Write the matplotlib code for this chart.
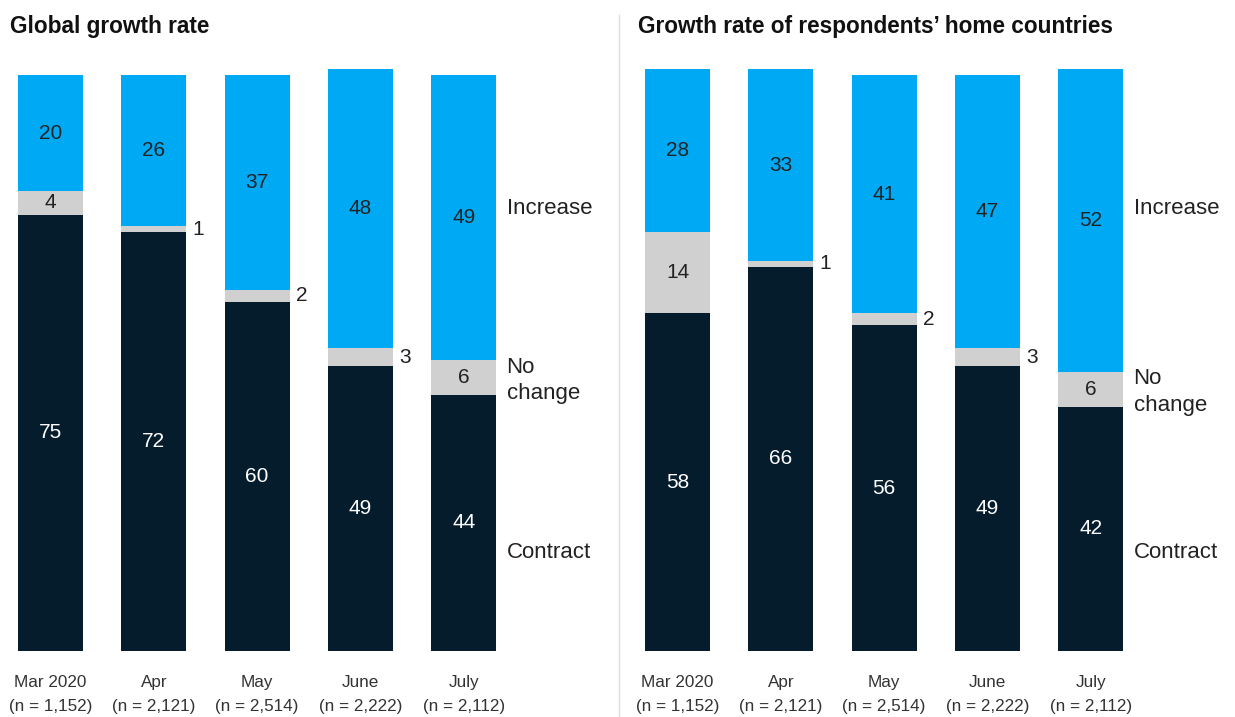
import matplotlib
matplotlib.use("Agg")
import matplotlib.pyplot as plt
from matplotlib import font_manager

# Survey data: share of respondents (%) expecting each outcome
months = ["Mar 2020", "Apr", "May", "June", "July"]
sample_sizes = ["1,152", "2,121", "2,514", "2,222", "2,112"]

global_contract = [75, 72, 60, 49, 44]
global_nochange = [4, 1, 2, 3, 6]
global_increase = [20, 26, 37, 48, 49]

home_contract = [58, 66, 56, 49, 42]
home_nochange = [14, 1, 2, 3, 6]
home_increase = [28, 33, 41, 47, 52]

titles = ["Global growth rate", "Growth rate of respondents\u2019 home countries"]
series_names = ["Increase", "No change", "Contract"]

DARK = "#051C2C"
GRAY = "#D0D0D0"
BLUE = "#00A9F4"
TEXT = "#222222"

available = {f.name for f in font_manager.fontManager.ttflist}
narrow = "Liberation Sans Narrow" if "Liberation Sans Narrow" in available else "Liberation Sans"
plt.rcParams["font.family"] = ["Liberation Sans", "DejaVu Sans"]

W, H = 1235, 717
fig = plt.figure(figsize=(W / 100, H / 100), dpi=100)

PX_PER_UNIT = 5.82
BASE_Y = 651          # pixel row of the bar baseline
STEP = 103.3          # pixel distance between bars
BAR_W = 65 / STEP


def draw_panel(x0, x1, first_center, contract, nochange, increase, title, title_x):
    ax = fig.add_axes([x0 / W, (H - BASE_Y) / H, (x1 - x0) / W, BASE_Y / H])
    ax.set_xlim((x0 - first_center) / STEP, (x1 - first_center) / STEP)
    ax.set_ylim(0, BASE_Y / PX_PER_UNIT)
    xs = list(range(len(months)))

    ax.bar(xs, contract, width=BAR_W, color=DARK, linewidth=0)
    nc_bottom = contract
    ax.bar(xs, nochange, width=BAR_W, bottom=nc_bottom, color=GRAY, linewidth=0)
    inc_bottom = [c + n for c, n in zip(contract, nochange)]
    ax.bar(xs, increase, width=BAR_W, bottom=inc_bottom, color=BLUE, linewidth=0)

    for i in xs:
        ax.text(i, contract[i] / 2, str(contract[i]), ha="center", va="center",
                color="white", fontsize=15)
        ax.text(i, inc_bottom[i] + increase[i] / 2, str(increase[i]), ha="center",
                va="center", color=TEXT, fontsize=15)
        mid = contract[i] + nochange[i] / 2
        if nochange[i] >= 4:
            ax.text(i, mid, str(nochange[i]), ha="center", va="center",
                    color=TEXT, fontsize=15)
        else:
            ax.text(i + BAR_W / 2 + 0.06, mid, str(nochange[i]), ha="left",
                    va="center", color=TEXT, fontsize=15)

    # Series labels to the right of the last bar
    last = len(months) - 1
    lx = last + BAR_W / 2 + 0.1
    ax.text(lx, 76, series_names[0], ha="left", va="center", color=TEXT, fontsize=16)
    ax.text(lx, contract[last] + nochange[last] / 2 - 0.5, "No\nchange", ha="left",
            va="center", color=TEXT, fontsize=16, linespacing=1.35)
    ax.text(lx, 17, series_names[2], ha="left", va="center", color=TEXT, fontsize=16)

    ax.set_xticks(xs)
    ax.set_xticklabels([f"{m}\n(n = {n})" for m, n in zip(months, sample_sizes)],
                       fontsize=12.3, family=narrow, color="#333333", linespacing=1.75)
    ax.tick_params(axis="x", length=0, pad=17)
    ax.set_yticks([])
    for s in ax.spines.values():
        s.set_visible(False)

    fig.text(title_x / W, 1 - 27 / H, title, ha="left", va="center",
             fontsize=16.3, fontweight="bold", color="#111111")
    return ax


draw_panel(0, 619, 50.5, global_contract, global_nochange, global_increase,
           titles[0], 10)
draw_panel(620, 1235, 677.5, home_contract, home_nochange, home_increase,
           titles[1], 638)

# Divider between the two panels
fig.add_artist(plt.Line2D([619 / W, 619 / W], [0, 1 - 15 / H], color="#DDDDDD",
                          linewidth=1, transform=fig.transFigure))

fig.savefig("out.png", dpi=100, facecolor="white")
